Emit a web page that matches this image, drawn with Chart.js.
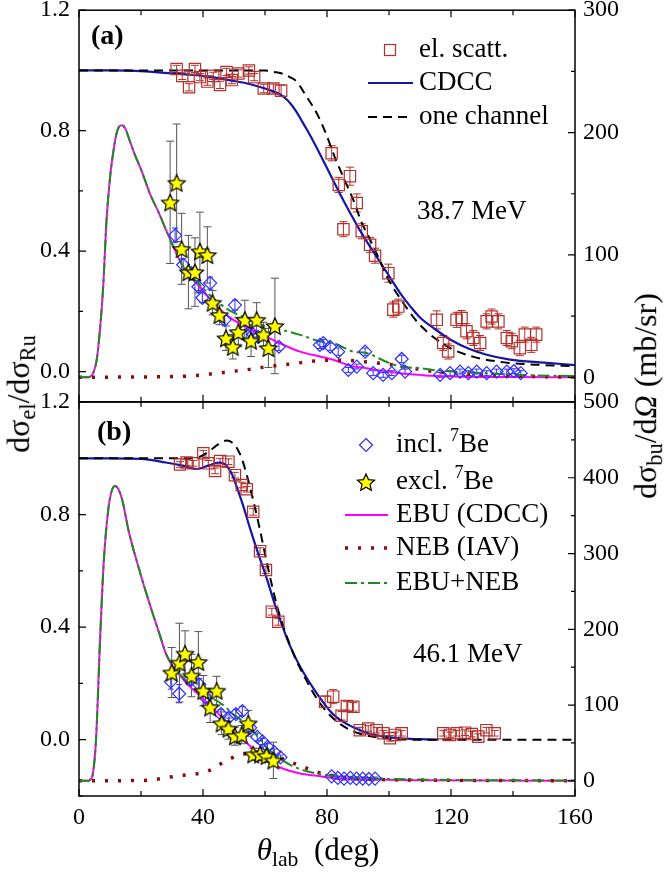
<!DOCTYPE html>
<html>
<head>
<meta charset="utf-8">
<script src="https://cdn.jsdelivr.net/npm/chart.js@4.4.0/dist/chart.umd.min.js"></script>
<style>
  body { margin: 0; background: #fff; }
  #wrap { position: relative; width: 666px; height: 874px; overflow: hidden; font-family: "Liberation Serif", serif; color: #000; }
  canvas { position: absolute; left: 0; }
  .ttl { position: absolute; font-size: 32px; white-space: nowrap; line-height: 1; transform: translate(-50%, -50%); }
  .rot { transform: translate(-50%, -50%) rotate(-90deg); }
  .ttl sub { font-size: 0.7em; vertical-align: -0.28em; }
</style>
</head>
<body>
<div id="wrap">
  <canvas id="panelA" width="666" height="412" style="top:0"></canvas>
  <canvas id="panelB" width="666" height="494" style="top:380px"></canvas>
  <div class="ttl rot" style="left:21px; top:394px">dσ<sub>el</sub>/dσ<sub>Ru</sub></div>
  <div class="ttl rot" style="left:648px; top:396px">dσ<sub>bu</sub>/d<i>Ω</i> (mb/sr)</div>
  <div class="ttl" style="left:318px; top:852px; font-size:31px"><i>θ</i><sub>lab</sub>&nbsp;&nbsp;(deg)</div>
</div>
<script>
// tick values
const thetaTicks = [0, 20, 40, 60, 80, 100, 120, 140, 160];
const ratioTicksA = [0, 0.2, 0.4, 0.6, 0.8, 1.0, 1.2];
const ratioTicksB = [-0.2, 0, 0.2, 0.4, 0.6, 0.8, 1.0, 1.2];
const buTicksA = [0, 50, 100, 150, 200, 250, 300];
const buTicksB = [0, 50, 100, 150, 200, 250, 300, 350, 400, 450, 500];

// ---- (a) 38.7 MeV ----
// elastic scattering ratio
const elThetaA = [31.5, 33.3, 35.5, 37.4, 39.0, 41.4, 43.3, 45.5, 47.6, 49.3, 51.4, 54.8, 56.5, 59.6, 62.7, 65.2,
  81.5, 83.8, 85.3, 87.4, 89.6, 91.2, 93.9, 95.5, 99.8, 101.4, 103.0, 115.4, 117.5, 119.1, 121.8, 123.4,
  125.0, 127.2, 129.4, 131.5, 133.1, 135.3, 138.0, 139.6, 142.2, 143.8, 145.9, 147.5];
const elRatioA = [1.005, 0.982, 0.944, 1.005, 0.978, 0.963, 0.982, 0.952, 0.995, 0.968, 0.990, 1.000, 0.978, 0.940, 0.940, 0.933,
  0.725, 0.620, 0.473, 0.649, 0.560, 0.466, 0.421, 0.385, 0.327, 0.206, 0.216, 0.172, 0.095, 0.067, 0.172, 0.178,
  0.134, 0.112, 0.095, 0.167, 0.183, 0.167, 0.112, 0.101, 0.078, 0.123, 0.089, 0.123];
const elErrA = [0.012, 0.012, 0.012, 0.012, 0.012, 0.012, 0.012, 0.012, 0.012, 0.012, 0.012, 0.012, 0.012, 0.014, 0.015, 0.018,
  0.025, 0.025, 0.025, 0.03, 0.03, 0.025, 0.025, 0.025, 0.03, 0.025, 0.025, 0.03, 0.025, 0.025, 0.025, 0.025,
  0.025, 0.025, 0.025, 0.025, 0.025, 0.025, 0.025, 0.025, 0.025, 0.025, 0.025, 0.025];
const cdccThetaA = [0, 10, 20, 30, 40, 50, 55, 60, 64, 66, 68, 70, 72, 74, 76, 78, 80, 82, 84, 86, 88, 90, 92, 94, 97,
  100, 104, 107, 110, 115, 120, 126, 131.5, 139, 150, 160];
const cdccA = [1.0, 1.0, 0.998, 0.99, 0.982, 0.965, 0.955, 0.94, 0.925, 0.912, 0.893, 0.865, 0.83, 0.795, 0.757, 0.717,
  0.676, 0.635, 0.594, 0.555, 0.517, 0.48, 0.446, 0.413, 0.366, 0.318, 0.255, 0.215, 0.18, 0.14, 0.105, 0.075, 0.056, 0.04, 0.03, 0.022];
const oneThetaA = [0, 20, 40, 55, 60, 63, 66, 68, 70.2, 73.4, 76.7, 79.4, 82.6, 85.5, 88.5, 91, 93.9, 97, 99.3, 104.6, 110, 118.6, 127, 138, 150, 160];
const oneA = [1.0, 1.0, 1.0, 1.0, 1.0, 0.995, 0.988, 0.978, 0.963, 0.913, 0.858, 0.797, 0.71, 0.64, 0.57, 0.5, 0.438, 0.37, 0.316, 0.228, 0.155, 0.085, 0.05, 0.03, 0.022, 0.018];
// breakup (mb/sr)
const exclThetaA = [29.4, 31.5, 33.1, 35.3, 37.4, 39.0, 41.4, 43.1, 45.3, 47.4, 49.6, 51.4, 53.5, 55.5, 57.3, 59.5, 61.1, 63.2];
const exclA = [143, 159, 105, 86, 86, 103, 100, 61, 51, 32, 25, 37, 47, 30, 47, 35, 24, 42];
const exclErrA = [50, 48, 29, 30, 28, 32, 23, 10, 8, 10, 10, 12, 16, 13, 14, 10, 16, 39];
const inclThetaA = [31.0, 33.6, 36.3, 38.5, 39.8, 42.3, 47.0, 50.3, 54.1, 56.2, 57.8, 64.5, 77.7, 78.8, 81.0, 83.6, 86.9,
  89.6, 92.3, 94.9, 98.1, 100.9, 104.1, 105.2, 116.5, 119.7, 122.9, 125.6, 128.3, 131.5, 134.7, 138.0, 140.3, 142.5];
const inclA = [116, 92, 85, 74, 65, 77, 47, 59, 35, 35, 33, 25, 26.5, 28, 25, 21, 6,
  8.8, 21, 3.4, 2, 3.4, 15, 4.7, 2, 3.4, 4.7, 3.4, 4.7, 3.4, 4.7, 4.7, 5, 3.4];
const inclErrA = [6, 5, 5, 5, 4, 5, 4, 4, 3, 3, 3, 3, 3, 3, 3, 3, 2,
  2, 3, 2, 2, 2, 3, 2, 2, 2, 2, 2, 2, 2, 2, 2, 2, 2];
const ebuThetaA = [0, 3, 3.5, 4.5, 5.7, 6.8, 7.8, 8.9, 10, 11, 12, 13, 13.9, 15, 16, 18, 20, 22.9, 26, 28.3,
  30.4, 33.6, 36, 39, 44.4, 49.8, 55, 60.5, 66, 71.3, 77.7, 82, 88.5, 92.7, 99.3, 103.5, 110, 114, 120.7, 140, 160];
const ebuA = [0, 0, 0.5, 3, 14, 40, 74, 129, 163, 183, 198, 205, 206, 203, 196, 182, 170, 150, 133, 119,
  107, 90, 82, 74, 58, 47, 40, 33, 26.5, 21, 17, 14.3, 8.8, 7.5, 4.7, 3.4, 2, 1.2, 0.7, 0.2, 0];
const nebThetaA = [0, 20, 30, 35, 40, 45, 50, 55, 60, 65, 70, 75, 80, 85, 90, 95, 100, 105, 110, 115, 120, 130, 140, 160];
const nebA = [0, 0.3, 0.6, 1, 2, 3.5, 5, 6.5, 8.5, 10, 11.5, 13, 14, 14, 13.2, 12, 10.5, 8.5, 6.5, 4.5, 3.5, 2, 1, 0.2];
const sumThetaA = [0, 3, 3.5, 4.5, 5.7, 6.8, 7.8, 8.9, 10, 11, 12, 13, 13.9, 15, 16, 18, 20, 22.9, 26, 28.3,
  30.4, 33.6, 36, 39, 44.4, 49.8, 53, 60.5, 65.9, 71.3, 77.7, 82, 88.5, 92.7, 99.3, 103.5, 110, 114.2, 120.7, 131.5, 142, 160];
const sumA = [0, 0, 0.5, 3, 14, 40, 74, 129, 163, 183, 198, 205, 206, 203, 196, 182, 170, 150, 133, 119,
  107, 90.5, 83, 75.5, 62, 53, 49.6, 41.5, 38.5, 34.7, 29.5, 28, 21, 19.8, 12.5, 8.8, 7.5, 6, 4.7, 3.4, 2, 1];

// ---- (b) 46.1 MeV ----
const elThetaB = [32.6, 34.7, 36.9, 40.1, 41.7, 43.9, 45.5, 48.2, 50.3, 52.5, 54.1, 56.2, 58.4, 60.3, 62.2, 64.3,
  79.4, 82.0, 84.7, 86.4, 88.5, 90.6, 93.3, 96.0, 98.2, 100.3, 101.9, 104.1, 117.5, 119.7, 121.8, 124.5, 126.7, 128.8, 131.4, 134.1];
const elRatioB = [0.978, 0.985, 0.982, 1.018, 0.982, 0.955, 0.990, 0.988, 0.940, 0.905, 0.890, 0.810, 0.670, 0.603, 0.455, 0.419,
  0.135, 0.153, 0.085, 0.120, 0.117, 0.034, 0.040, 0.034, 0.023, 0.005, 0.017, 0.023, 0.023, 0.017, 0.023, 0.025, 0.020, 0.011, 0.034, 0.023];
const elErrB = [0.01, 0.01, 0.01, 0.01, 0.01, 0.01, 0.01, 0.01, 0.01, 0.01, 0.01, 0.012, 0.012, 0.012, 0.012, 0.012,
  0.02, 0.025, 0.015, 0.015, 0.015, 0.01, 0.01, 0.01, 0.01, 0.01, 0.01, 0.01, 0.01, 0.01, 0.01, 0.01, 0.01, 0.01, 0.01, 0.01];
const cdccThetaB = [0, 10, 20, 28, 33, 38, 42, 45, 46.5, 48, 49.5, 51, 53, 55.2, 58, 60.5, 63.2, 65.9, 68, 71.3, 76.7, 82, 87.4, 92.8, 98, 103.5, 110, 116];
const cdccB = [1, 1, 0.998, 0.985, 0.975, 0.962, 0.975, 0.985, 0.982, 0.968, 0.94, 0.895, 0.83, 0.75, 0.655, 0.575, 0.48, 0.395, 0.335, 0.26, 0.165, 0.09, 0.05, 0.025, 0.012, 0.005, 0.002, 0];
const oneThetaB = [0, 20, 30, 35, 39, 42, 45, 47.6, 49.5, 51, 52.5, 54, 56, 58, 60, 62, 64, 66, 69, 73.4, 77.7, 83, 89.6, 98, 110, 125, 160];
const oneB = [1, 1, 1, 1, 1.005, 1.025, 1.05, 1.063, 1.055, 1.035, 1.0, 0.945, 0.86, 0.765, 0.66, 0.56, 0.47, 0.40, 0.31, 0.21, 0.13, 0.066, 0.025, 0.006, 0, 0, 0];
const exclThetaB = [29.9, 32.4, 34.2, 36.3, 38.5, 40.1, 42.3, 44.4, 46.0, 48.2, 50.3, 52.5, 54.6, 56.2, 58.4, 60.5, 62.7];
const exclB = [143, 156, 168, 139, 157, 119, 97, 119, 76, 69, 59, 61, 76, 35, 35, 33, 27];
const exclErrB = [33, 52, 30, 28, 40, 20, 20, 19, 15, 14, 12, 12, 17, 8, 8, 8, 24];
const inclThetaB = [29.6, 32.3, 35.8, 38.8, 40.8, 45.8, 48.4, 50.6, 52.7, 55.2, 57.5, 59.2, 60.8, 63.0, 65.0,
  81.5, 83.5, 85.5, 87.5, 89.5, 91.5, 93.5, 95.5];
const inclB = [131, 115, 134, 127, 110, 88, 84, 88, 92, 70, 58, 52, 45, 38, 31, 6, 4, 3, 4, 3, 3, 2.5, 3];
const inclErrB = [10, 12, 8, 8, 7, 6, 6, 6, 6, 5, 5, 4, 4, 4, 3, 2, 2, 2, 2, 2, 2, 2, 2];
const ebuThetaB = [0, 3, 3.5, 4.5, 5.5, 6.8, 8, 9.5, 10.5, 11.6, 12.7, 14, 16, 19.7, 22.9, 26.1, 28.3, 33.6, 39, 44.4,
  49.8, 55.2, 60.5, 65.9, 71.3, 76.7, 82, 92.8, 110, 130, 160];
const ebuB = [0, 0, 1, 10, 55, 187, 290, 360, 382, 389, 385, 370, 330, 275, 232, 192, 165, 134, 112, 91,
  66, 46, 26, 16, 9.6, 6.6, 3.9, 2, 0.8, 0.3, 0];
const nebThetaB = [0, 20, 25, 29.4, 35, 39, 43.3, 45.5, 48.7, 51.9, 54.1, 57, 60, 64, 68.1, 72.4, 76.7, 82, 87.4, 95, 110, 130, 160];
const nebB = [0, 0.5, 2, 5, 8, 10, 16, 22, 29, 34, 36, 38, 37, 32, 25, 18.4, 11.8, 6.6, 3.9, 2, 1, 0.5, 0.2];
const sumThetaB = [0, 3, 3.5, 4.5, 5.5, 6.8, 8, 9.5, 10.5, 11.6, 12.7, 14, 16, 19.7, 22.9, 26.1, 28.3, 33.6, 39, 41,
  44.4, 46.5, 49.8, 53, 58.4, 60.5, 63.7, 69.1, 76.7, 85.3, 96, 120, 160];
const sumB = [0, 0, 1, 10, 55, 187, 290, 360, 382, 389, 385, 370, 330, 275, 232, 192, 166, 136, 115, 110,
  106, 100, 88, 78, 55, 44, 33, 19, 9.6, 5.3, 3, 1.2, 0.5];

// ---- styling ----
const SERIF = "'Liberation Serif', 'Times New Roman', serif";
Chart.defaults.font.family = SERIF;
Chart.defaults.font.size = 24;
Chart.defaults.color = '#000';

const colors = {
  el: '#b3302c', cdcc: '#1616a6', incl: '#2f2fff', ebu: '#ff00ff', neb: '#8b0a0a', sum: '#1f8a1f', starErr: '#555555'
};

function makeStar(r) {
  const c = document.createElement('canvas');
  const s = Math.ceil(2 * r + 4);
  c.width = c.height = s;
  const g = c.getContext('2d');
  g.beginPath();
  for (let i = 0; i < 10; i++) {
    const rr = i % 2 ? r * 0.47 : r;
    const a = -Math.PI / 2 + i * Math.PI / 5;
    g.lineTo(s / 2 + rr * Math.cos(a), s / 2 + 1 + rr * Math.sin(a));
  }
  g.closePath();
  g.fillStyle = '#ffff00';
  g.fill();
  g.lineWidth = 1.2;
  g.strokeStyle = '#000';
  g.stroke();
  return c;
}
const STAR = makeStar(9);

const lCdcc = { borderColor: colors.cdcc, borderWidth: 2.2 };
const lOne = { borderColor: '#000', borderWidth: 2, borderDash: [9, 6] };
const lEbu = { borderColor: colors.ebu, borderWidth: 2 };
const lNeb = { borderColor: colors.neb, borderWidth: 3.5, borderDash: [3, 10] };
const lSum = { borderColor: colors.sum, borderWidth: 2, borderDash: [12, 4, 3, 4] };
const sqStyle = { pointStyle: 'rect', pointRadius: 8, pointBorderColor: colors.el, pointBackgroundColor: 'rgba(0,0,0,0)', errColor: colors.el, errCap: 4 };
const diaStyle = { pointStyle: 'rectRot', pointRadius: 6.5, pointBorderColor: colors.incl, pointBackgroundColor: 'rgba(0,0,0,0)', errColor: colors.incl, errCap: 3 };
const starStyle = { pointStyle: STAR, pointRadius: 9, errColor: colors.starErr, errCap: 4 };

const pts = (xs, ys) => xs.map((x, i) => ({ x, y: ys[i] }));

function curve(xs, ys, axis, style) {
  return Object.assign({ data: pts(xs, ys), yAxisID: axis, showLine: true, pointRadius: 0, fill: false,
    cubicInterpolationMode: 'monotone' }, style);
}
function markers(xs, ys, errs, axis, style) {
  return Object.assign({ data: pts(xs, ys), errors: errs, yAxisID: axis, showLine: false, pointBorderWidth: 1.2 }, style);
}

// error bars, drawn under the markers
const errorBars = {
  id: 'errorBars',
  beforeDatasetsDraw(chart) {
    const { ctx, chartArea: a } = chart;
    ctx.save();
    ctx.beginPath();
    ctx.rect(a.left, a.top, a.right - a.left, a.bottom - a.top);
    ctx.clip();
    chart.data.datasets.forEach((ds, i) => {
      if (!ds.errors) return;
      const meta = chart.getDatasetMeta(i);
      const ys = chart.scales[meta.yAxisID];
      ctx.strokeStyle = ds.errColor;
      ctx.lineWidth = 1;
      ds.data.forEach((p, j) => {
        const e = ds.errors[j];
        const px = meta.data[j].x;
        const top = ys.getPixelForValue(p.y + e);
        const bot = ys.getPixelForValue(p.y - e);
        ctx.beginPath();
        ctx.moveTo(px, top); ctx.lineTo(px, bot);
        ctx.moveTo(px - ds.errCap, top); ctx.lineTo(px + ds.errCap, top);
        ctx.moveTo(px - ds.errCap, bot); ctx.lineTo(px + ds.errCap, bot);
        ctx.stroke();
      });
    });
    ctx.restore();
  }
};

// box and inward tick marks
const frameTicks = {
  id: 'frameTicks',
  afterDraw(chart) {
    const { ctx, chartArea: a, scales } = chart;
    const seg = (x0, y0, x1, y1) => { ctx.moveTo(x0, y0); ctx.lineTo(x1, y1); };
    ctx.save();
    ctx.strokeStyle = '#000';
    ctx.lineWidth = 1.2;
    ctx.beginPath();
    thetaTicks.forEach(v => {
      const px = scales.x.getPixelForValue(v);
      const L = v % 40 === 0 ? 7 : 5;
      seg(px, a.bottom, px, a.bottom - L);
      seg(px, a.top, px, a.top + L);
    });
    scales.yL.ticks.forEach(t => {
      const py = scales.yL.getPixelForValue(t.value);
      seg(a.left, py, a.left + (t.label !== '' ? 7 : 4), py);
    });
    scales.yR.ticks.forEach(t => {
      const py = scales.yR.getPixelForValue(t.value);
      seg(a.right, py, a.right - (t.label !== '' ? 7 : 4), py);
    });
    ctx.stroke();
    ctx.lineWidth = 1.5;
    ctx.strokeRect(a.left, a.top, a.right - a.left, a.bottom - a.top);
    ctx.restore();
  }
};

function drawRich(ctx, parts, x, y) {
  parts.forEach(([txt, sup]) => {
    ctx.font = sup ? `18px ${SERIF}` : `27px ${SERIF}`;
    ctx.fillText(txt, x, sup ? y - 9 : y);
    x += ctx.measureText(txt).width;
  });
}

function drawKey(ctx, item, cfg, y) {
  ctx.save();
  if (item.line) {
    ctx.strokeStyle = item.line.borderColor;
    ctx.lineWidth = item.line.borderWidth;
    ctx.setLineDash(item.line.borderDash || []);
    ctx.beginPath();
    ctx.moveTo(cfg.lineX0, y);
    ctx.lineTo(cfg.lineX1, y);
    ctx.stroke();
  } else if (item.mark === 'square') {
    ctx.strokeStyle = colors.el;
    ctx.lineWidth = 1.2;
    ctx.strokeRect(cfg.markX - 5.5, y - 5.5, 11, 11);
  } else if (item.mark === 'diamond') {
    ctx.strokeStyle = colors.incl;
    ctx.lineWidth = 1.2;
    ctx.beginPath();
    ctx.moveTo(cfg.markX, y - 6.5); ctx.lineTo(cfg.markX + 6.5, y);
    ctx.lineTo(cfg.markX, y + 6.5); ctx.lineTo(cfg.markX - 6.5, y);
    ctx.closePath();
    ctx.stroke();
  } else if (item.mark === 'star') {
    ctx.drawImage(STAR, cfg.markX - STAR.width / 2, y - STAR.height / 2);
  }
  ctx.restore();
}

function textPlugin(cfg) {
  return {
    id: 'panelText',
    afterDraw(chart) {
      const ctx = chart.ctx;
      ctx.save();
      ctx.fillStyle = '#000';
      ctx.textBaseline = 'middle';
      ctx.textAlign = 'left';
      ctx.font = `bold 28px ${SERIF}`;
      ctx.fillText(cfg.tag, cfg.tagX, cfg.tagY);
      ctx.font = `27px ${SERIF}`;
      ctx.fillText(cfg.energy, cfg.energyX, cfg.energyY);
      cfg.legend.forEach((item, k) => {
        const y = cfg.legendY[k];
        drawKey(ctx, item, cfg, y);
        drawRich(ctx, item.label, cfg.textX, y);
      });
      ctx.restore();
    }
  };
}

const isRatioMajor = v => Math.abs(v * 2.5 - Math.round(v * 2.5)) < 1e-6 && v >= 0;

function valueAxis(pos, min, max, tickVals, isMajor, fmt, width, pad) {
  return {
    type: 'linear', axis: 'y', position: pos, min, max,
    grid: { display: false, drawTicks: false }, border: { display: false },
    afterBuildTicks: s => { s.ticks = tickVals.map(v => ({ value: v })); },
    ticks: { autoSkip: false, padding: pad, font: { size: 24 }, callback: v => isMajor(v) ? fmt(v) : '' },
    afterFit: s => { s.width = width; s.paddingTop = 0; s.paddingBottom = 0; }
  };
}

function panel(id, datasets, opt) {
  return new Chart(document.getElementById(id), {
    type: 'scatter',
    data: { datasets },
    options: {
      responsive: false, animation: false, events: [],
      layout: { padding: opt.padding },
      plugins: { legend: { display: false }, tooltip: { enabled: false } },
      scales: {
        x: opt.xAxis,
        yL: valueAxis('left', opt.ratioMin, 1.2, opt.ratioTicks, isRatioMajor, v => v.toFixed(1), 79, 9),
        yR: valueAxis('right', -20, opt.buMax, opt.buTicks, v => v % 100 === 0, v => String(v), 91, 8)
      }
    },
    plugins: [errorBars, frameTicks, textPlugin(opt.text)]
  });
}

panel('panelA', [
  markers(exclThetaA, exclA, exclErrA, 'yR', starStyle),
  markers(inclThetaA, inclA, inclErrA, 'yR', diaStyle),
  markers(elThetaA, elRatioA, elErrA, 'yL', sqStyle),
  curve(sumThetaA, sumA, 'yR', lSum),
  curve(nebThetaA, nebA, 'yR', lNeb),
  curve(ebuThetaA, ebuA, 'yR', lEbu),
  curve(oneThetaA, oneA, 'yL', lOne),
  curve(cdccThetaA, cdccA, 'yL', lCdcc)
], {
  // Chart.js keeps ~10px free above and below the box anyway, so the canvas is 412 tall
  padding: { top: 10, bottom: 10, left: 0, right: 0 },
  xAxis: { type: 'linear', min: 0, max: 160, display: false },
  ratioMin: -0.1, ratioTicks: ratioTicksA, buMax: 300, buTicks: buTicksA,
  text: {
    tag: '(a)', tagX: 91, tagY: 37, energy: '38.7 MeV', energyX: 417, energyY: 212,
    markX: 390, lineX0: 368, lineX1: 413, textX: 419, legendY: [50, 83, 117],
    legend: [
      { mark: 'square', label: [['el. scatt.']] },
      { line: lCdcc, label: [['CDCC']] },
      { line: lOne, label: [['one channel']] }
    ]
  }
});

panel('panelB', [
  markers(exclThetaB, exclB, exclErrB, 'yR', starStyle),
  markers(inclThetaB, inclB, inclErrB, 'yR', diaStyle),
  markers(elThetaB, elRatioB, elErrB, 'yL', sqStyle),
  curve(sumThetaB, sumB, 'yR', lSum),
  curve(nebThetaB, nebB, 'yR', lNeb),
  curve(ebuThetaB, ebuB, 'yR', lEbu),
  curve(oneThetaB, oneB, 'yL', lOne),
  curve(cdccThetaB, cdccB, 'yL', lCdcc)
], {
  padding: { top: 22, bottom: 0, left: 0, right: 0 },
  xAxis: {
    type: 'linear', min: 0, max: 160,
    grid: { display: false, drawTicks: false }, border: { display: false },
    afterBuildTicks: s => { s.ticks = thetaTicks.map(v => ({ value: v })); },
    ticks: { autoSkip: false, maxRotation: 0, minRotation: 0, padding: 7, font: { size: 24 },
      callback: v => v % 40 === 0 ? String(v) : '' },
    afterFit: s => { s.height = 78; s.paddingLeft = 0; s.paddingRight = 0; }
  },
  ratioMin: -0.2, ratioTicks: ratioTicksB, buMax: 500, buTicks: buTicksB,
  text: {
    tag: '(b)', tagX: 97, tagY: 53, energy: '46.1 MeV', energyX: 413, energyY: 275,
    markX: 366, lineX0: 345, lineX1: 388, textX: 396, legendY: [65, 102, 135, 168, 203],
    legend: [
      { mark: 'diamond', label: [['incl. '], ['7', true], ['Be']] },
      { mark: 'star', label: [['excl. '], ['7', true], ['Be']] },
      { line: lEbu, label: [['EBU (CDCC)']] },
      { line: lNeb, label: [['NEB (IAV)']] },
      { line: lSum, label: [['EBU+NEB']] }
    ]
  }
});
</script>
</body>
</html>
